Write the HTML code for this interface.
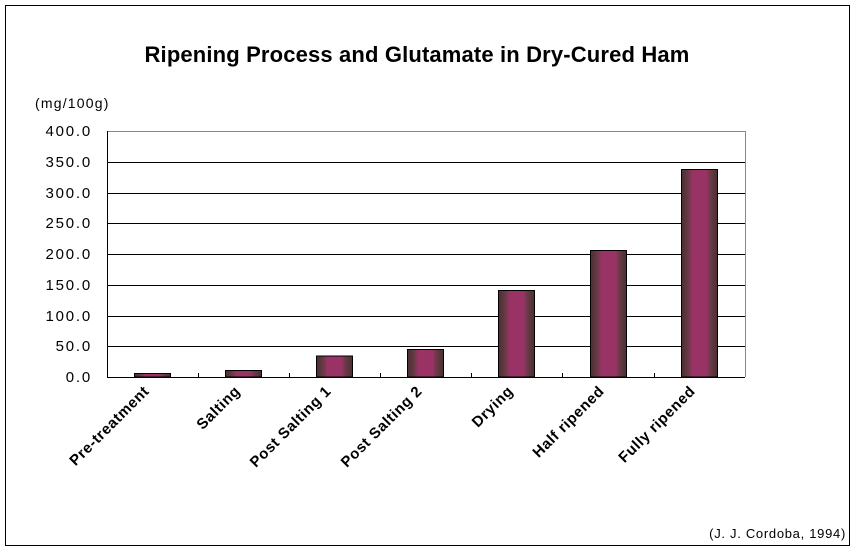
<!DOCTYPE html>
<html><head><meta charset="utf-8"><style>
html,body{margin:0;padding:0;background:#fff}
svg text{font-family:"Liberation Sans",Arial,sans-serif}
</style></head><body>
<svg width="855" height="551" viewBox="0 0 855 551" xmlns="http://www.w3.org/2000/svg">
<defs>
<linearGradient id="g" x1="0" x2="1" y1="0" y2="0">
<stop offset="0" stop-color="#4a3030"/>
<stop offset="0.2" stop-color="#6a3a48"/>
<stop offset="0.3" stop-color="#993366"/>
<stop offset="0.7" stop-color="#993366"/>
<stop offset="0.8" stop-color="#6a3a48"/>
<stop offset="1" stop-color="#4a3030"/>
</linearGradient>
</defs>
<rect x="5.5" y="5.5" width="844" height="540" fill="#fff" stroke="#000" stroke-width="1"/>
<text x="417" y="62" font-size="22" text-anchor="middle" font-weight="bold" letter-spacing="0.15">Ripening Process and Glutamate in Dry-Cured Ham</text>
<text x="35" y="108" font-size="14" letter-spacing="1.2">(mg/100g)</text>
<g stroke="#000" stroke-width="1">
<line x1="107" x2="745" y1="162.5" y2="162.5"/>
<line x1="107" x2="745" y1="193.5" y2="193.5"/>
<line x1="107" x2="745" y1="223.5" y2="223.5"/>
<line x1="107" x2="745" y1="254.5" y2="254.5"/>
<line x1="107" x2="745" y1="285.5" y2="285.5"/>
<line x1="107" x2="745" y1="316.5" y2="316.5"/>
<line x1="107" x2="745" y1="346.5" y2="346.5"/>
</g>
<line x1="107" x2="745" y1="131.5" y2="131.5" stroke="#888"/>
<line x1="745.5" x2="745.5" y1="131" y2="377" stroke="#888"/>
<line x1="107.5" x2="107.5" y1="131" y2="377" stroke="#000"/>
<g font-size="15" text-anchor="end" letter-spacing="1.8">
<text x="92" y="136">400.0</text><text x="92" y="167">350.0</text><text x="92" y="198">300.0</text>
<text x="92" y="228">250.0</text><text x="92" y="259">200.0</text><text x="92" y="290">150.0</text>
<text x="92" y="321">100.0</text><text x="92" y="351">50.0</text><text x="92" y="382">0.0</text>
</g>
<g stroke="#000" stroke-width="1" fill="url(#g)">
<rect x="134.5" y="373.5" width="36" height="3.5"/>
<rect x="225.5" y="370.5" width="36" height="6.5"/>
<rect x="316.5" y="356" width="36" height="21"/>
<rect x="407.5" y="349.5" width="36" height="27.5"/>
<rect x="498.5" y="290.5" width="36" height="86.5"/>
<rect x="590.5" y="250.5" width="36" height="126.5"/>
<rect x="681.5" y="169.5" width="36" height="207.5"/>
</g>
<line x1="107" x2="745" y1="377.5" y2="377.5" stroke="#000"/>
<g stroke="#000">
<line x1="198.5" x2="198.5" y1="373" y2="377"/><line x1="289.5" x2="289.5" y1="373" y2="377"/>
<line x1="380.5" x2="380.5" y1="373" y2="377"/><line x1="471.5" x2="471.5" y1="373" y2="377"/>
<line x1="562.5" x2="562.5" y1="373" y2="377"/><line x1="654.5" x2="654.5" y1="373" y2="377"/>
</g>
<g font-size="15" text-anchor="end" font-weight="bold" letter-spacing="0.6">
<text transform="translate(150,392) rotate(-45)">Pre-treatment</text>
<text transform="translate(241,392) rotate(-45)">Salting</text>
<text transform="translate(332,392) rotate(-45)">Post Salting 1</text>
<text transform="translate(423,392) rotate(-45)">Post Salting 2</text>
<text transform="translate(514,392) rotate(-45)">Drying</text>
<text transform="translate(605,392) rotate(-45)">Half ripened</text>
<text transform="translate(696,392) rotate(-45)">Fully ripened</text>
</g>
<text x="846" y="538" font-size="13" text-anchor="end" letter-spacing="0.7">(J. J. Cordoba, 1994)</text>
</svg>
</body></html>
